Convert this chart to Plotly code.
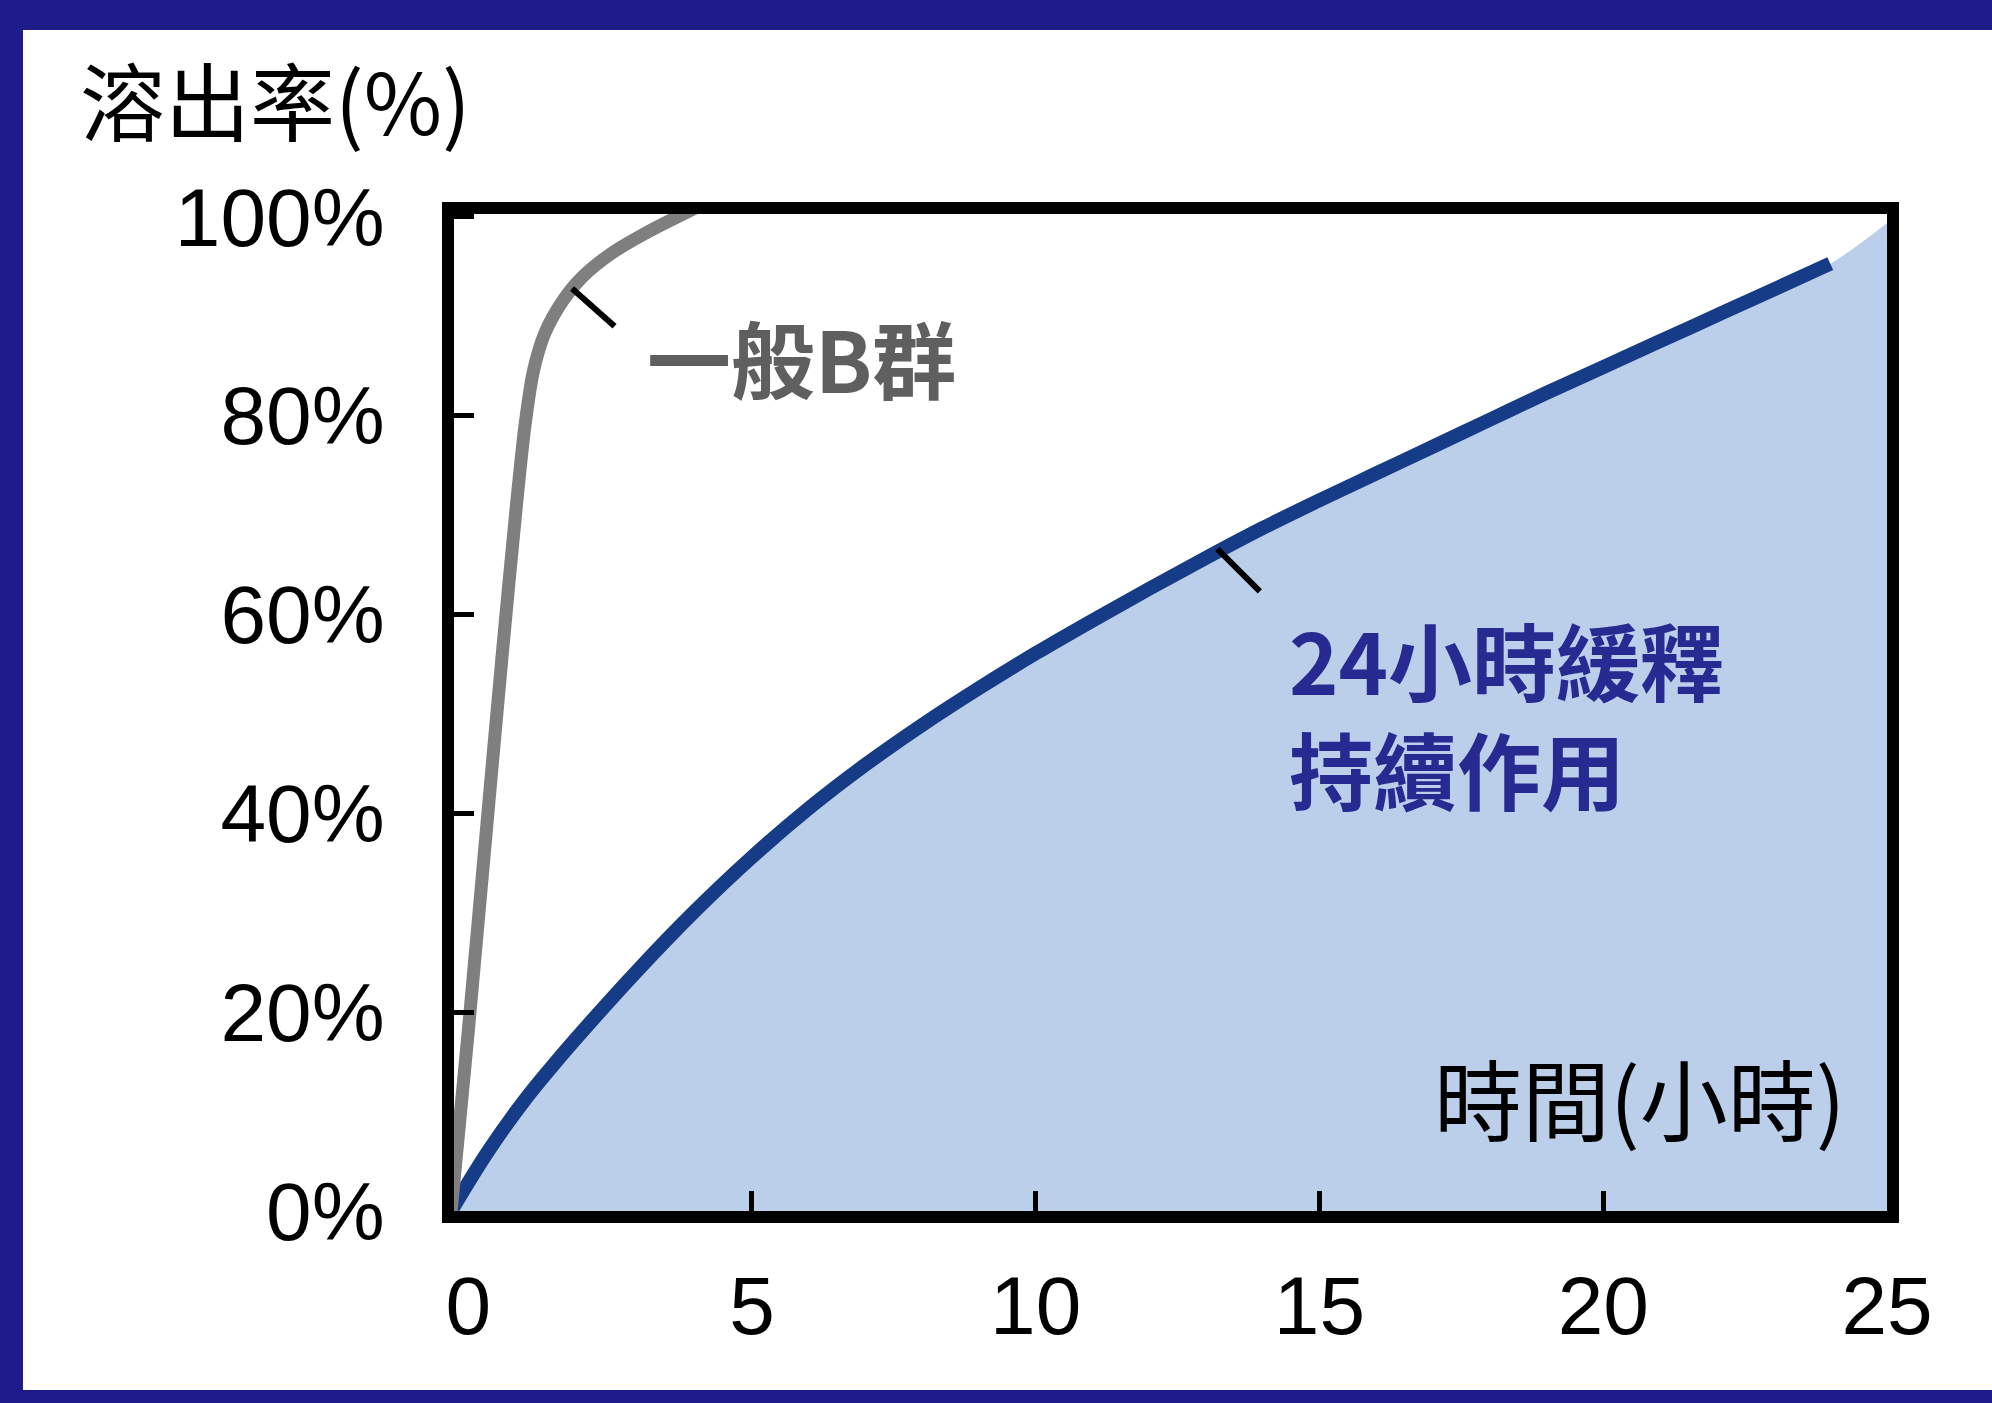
import plotly.graph_objects as go

# ---------------- data ----------------
time_general = [-0.3, 0.0, 0.3, 0.6, 0.85, 1.0, 1.15, 1.35, 1.67, 2.0, 2.54, 3.2, 4.0]
release_general = [0, 18, 37, 56, 71, 79, 84.5, 88.3, 91.6, 93.9, 96.4, 98.6, 100.9]

time_sustained = [-0.3, 0.35, 1, 1.5, 2, 3, 4, 5, 6, 7, 8, 9, 10, 11, 12, 13, 14, 15,
                  16, 17, 18, 19, 20, 21, 22, 23, 24]
release_sustained = [0, 6.0, 11.2, 14.7, 18.0, 24.3, 30.2, 35.6, 40.5, 44.9, 48.9,
                     52.6, 56.1, 59.4, 62.6, 65.7, 68.7, 71.5, 74.2, 76.9, 79.6,
                     82.3, 84.9, 87.5, 90.1, 92.7, 95.3]
# shaded area keeps rising to the right-hand frame
fill_end_time = 25.0
fill_end_release = 99.4

x_ticks = [0, 5, 10, 15, 20, 25]
x_minor_ticks = [5, 10, 15, 20]
y_ticks = [0, 20, 40, 60, 80, 100]
y_tick_labels = ["0%", "20%", "40%", "60%", "80%", "100%"]

label_general = "一般B群"
label_sustained = "24小時緩釋<br>持續作用"
title_y = "溶出率(%)"
title_x = "時間(小時)"

# leader-line anchors on the curves
lead_general = (1.83, 92.8)
lead_sustained = (13.2, 66.6)

# ---------------- styling ----------------
W, H = 1992, 1403
L, R, T, B = 454, 105, 214, 192
PW, PH = W - L - R, H - T - B

def px_x(px):
    return (px - L) / PW

def px_y(py):
    return (H - B - py) / PH

NAVY_FRAME = "#1e1c8a"
FILL = "#bccfea"
BLUE_LINE = "#163c88"
GRAY_LINE = "#7f7f7f"
NAVY_TEXT = "#262a91"
GRAY_TEXT = "#5f5f5f"
CJK = "Noto Sans CJK TC"
LATIN = "Liberation Sans, Arial, sans-serif"

fig = go.Figure()

fig.add_trace(go.Scatter(
    x=time_sustained + [fill_end_time],
    y=release_sustained + [fill_end_release],
    mode="lines", line=dict(width=0, color=FILL, shape="spline"),
    fill="tozeroy", fillcolor=FILL, hoverinfo="skip", showlegend=False,
))
fig.add_trace(go.Scatter(
    x=time_sustained, y=release_sustained, mode="lines",
    line=dict(color=BLUE_LINE, width=14, shape="spline", smoothing=1.0),
    showlegend=False,
))
fig.add_trace(go.Scatter(
    x=time_general, y=release_general, mode="lines",
    line=dict(color=GRAY_LINE, width=13, shape="spline", smoothing=0.8),
    showlegend=False,
))

axis_common = dict(
    showline=True, linewidth=12, linecolor="black", mirror=True,
    showgrid=False, zeroline=False,
    tickfont=dict(family=LATIN, size=82, color="black"),
)

fig.update_xaxes(
    range=[-0.25, 25.0], tickvals=x_ticks, ticks="", ticklabelstandoff=13,
    minor=dict(tickvals=x_minor_ticks, ticks="inside", ticklen=20,
               tickwidth=5, tickcolor="black"),
    **axis_common,
)
fig.update_yaxes(
    range=[0, 100.3], tickvals=y_ticks, ticktext=y_tick_labels, ticks="inside",
    ticklen=20, tickwidth=5, tickcolor="black", ticklabelstandoff=41,
    **axis_common,
)

shapes = [
    dict(type="rect", xref="paper", yref="paper", x0=px_x(0), x1=px_x(W),
         y0=px_y(30), y1=px_y(0), fillcolor=NAVY_FRAME, line_width=0, layer="below"),
    dict(type="rect", xref="paper", yref="paper", x0=px_x(0), x1=px_x(23),
         y0=px_y(H), y1=px_y(0), fillcolor=NAVY_FRAME, line_width=0, layer="below"),
    dict(type="rect", xref="paper", yref="paper", x0=px_x(0), x1=px_x(W),
         y0=px_y(H), y1=px_y(1390), fillcolor=NAVY_FRAME, line_width=0, layer="below"),
]

annotations = [
    dict(text=title_y, xref="paper", yref="paper", x=px_x(78), y=px_y(98),
         xanchor="left", yanchor="middle", showarrow=False,
         font=dict(family=CJK, size=85, color="black")),
    dict(text=title_x, xref="paper", yref="paper", x=px_x(1848), y=px_y(1095),
         xanchor="right", yanchor="middle", showarrow=False,
         font=dict(family=CJK, size=88, color="black")),
    dict(text="<b>" + label_general + "</b>", xref="paper", yref="paper",
         x=px_x(645), y=px_y(356), xanchor="left", yanchor="middle", showarrow=False,
         font=dict(family=CJK, size=84, color=GRAY_TEXT)),
    dict(text="<b>" + label_sustained + "</b>", xref="paper", yref="paper",
         x=px_x(1287), y=px_y(713), xanchor="left", yanchor="middle", align="left",
         showarrow=False, font=dict(family=CJK, size=84, color=NAVY_TEXT)),
    dict(text="", x=lead_general[0], y=lead_general[1], xref="x", yref="y",
         ax=44, ay=39, showarrow=True, arrowhead=0, arrowwidth=6,
         arrowcolor="black", standoff=0),
    dict(text="", x=lead_sustained[0], y=lead_sustained[1], xref="x", yref="y",
         ax=44, ay=44, showarrow=True, arrowhead=0, arrowwidth=6,
         arrowcolor="black", standoff=0),
]

fig.update_layout(
    width=W, height=H, margin=dict(l=L, r=R, t=T, b=B, pad=0),
    paper_bgcolor="white", plot_bgcolor="white",
    shapes=shapes, annotations=annotations, showlegend=False,
)

fig.write_html(
    "out.html",
    config={"displayModeBar": False},
    post_script="document.body.style.margin='0';document.body.style.overflow='hidden';",
)
